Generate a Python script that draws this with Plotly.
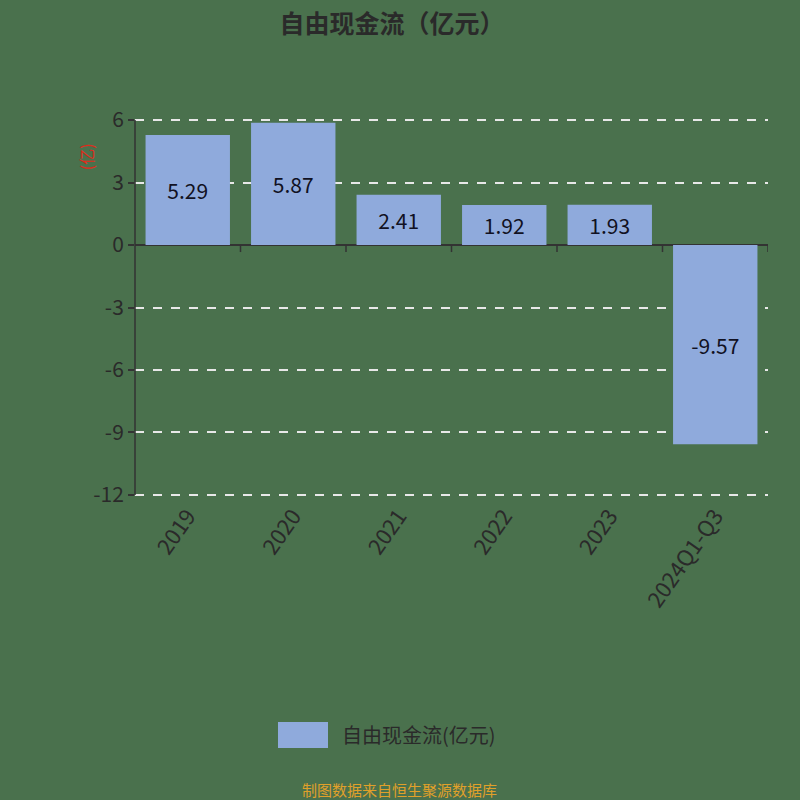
import plotly.graph_objects as go

categories = ["2019", "2020", "2021", "2022", "2023", "2024Q1-Q3"]
values = [5.29, 5.87, 2.41, 1.92, 1.93, -9.57]
value_labels = ["5.29", "5.87", "2.41", "1.92", "1.93", "-9.57"]
y_ticks = [6, 3, 0, -3, -6, -9, -12]
y_tick_labels = ["6", "3", "0", "-3", "-6", "-9", "-12"]

BG = "#4a714d"
BAR = "#8faadc"
AX = "#333333"
FONT = "Noto Sans CJK SC"

fig = go.Figure()
fig.add_trace(go.Bar(
    x=list(range(len(categories))), y=values, width=0.8,
    marker=dict(color=BAR, line=dict(width=0)),
    text=value_labels, textposition="inside", insidetextanchor="middle",
    textangle=0, textfont=dict(size=21, color="#111122", family=FONT),
    showlegend=False, hoverinfo="skip",
))

shapes = []
for i in range(len(categories)):
    shapes.append(dict(type="line", xref="x", yref="y", x0=i + 0.5, x1=i + 0.5,
                       ysizemode="pixel", yanchor=0, y0=0, y1=-7,
                       line=dict(color=AX, width=1.5)))
# y axis line from -12 to 6
shapes.append(dict(type="line", xref="x domain", yref="y", x0=0, x1=0,
                   y0=-12, y1=6, line=dict(color=AX, width=1.5)))
# custom legend swatch
shapes.append(dict(type="rect", xref="paper", yref="paper",
                   x0=0.2259, x1=0.3049, y0=-0.656, y1=-0.588,
                   fillcolor=BAR, line=dict(width=0)))

fig.update_layout(
    width=800, height=800,
    paper_bgcolor=BG, plot_bgcolor=BG,
    margin=dict(l=135, r=32, t=117, b=302),
    font=dict(family=FONT, color=AX),
    title=dict(text="<b>自由现金流（亿元）</b>", x=0.49, xanchor="center",
               y=1 - 24 / 800, yanchor="middle",
               font=dict(size=25, color="#2a2a2a", family=FONT)),
    xaxis=dict(range=[-0.5, 5.5], tickmode="array",
               tickvals=list(range(len(categories))), ticktext=categories,
               tickangle=-55, tickfont=dict(size=22, color="#2a2a2a"),
               showgrid=False, zeroline=False, showline=False, ticks=""),
    yaxis=dict(range=[-12.15, 6.15], tickmode="array", tickvals=y_ticks,
               ticktext=y_tick_labels,
               tickfont=dict(size=21, color="#2a2a2a"),
               showline=False,
               ticks="outside", ticklen=6, tickcolor=AX, tickwidth=1.5,
               showgrid=True, gridcolor="#e8e8e8", griddash="dash", gridwidth=1.5,
               zeroline=True, zerolinecolor=AX, zerolinewidth=1.5),
    shapes=shapes,
    annotations=[
        dict(text="(亿)", xref="paper", yref="paper", x=-0.0995, y=0.935,
             textangle=-90, showarrow=False,
             font=dict(size=16, color="#e02a1a", family=FONT)),
        dict(text="自由现金流(亿元)", xref="paper", yref="paper", x=0.3239, y=-0.622,
             xanchor="left", yanchor="middle", showarrow=False,
             font=dict(size=20, color="#2a2a2a", family=FONT)),
        dict(text="制图数据来自恒生聚源数据库", xref="paper", yref="paper",
             x=0.4186, y=-0.766, xanchor="center", yanchor="middle", showarrow=False,
             font=dict(size=15, color="#e0a02a", family=FONT)),
    ],
    bargap=0.2,
)

fig.write_html("out.html", config={"displayModeBar": False},
               post_script="document.body.style.margin='0';")
